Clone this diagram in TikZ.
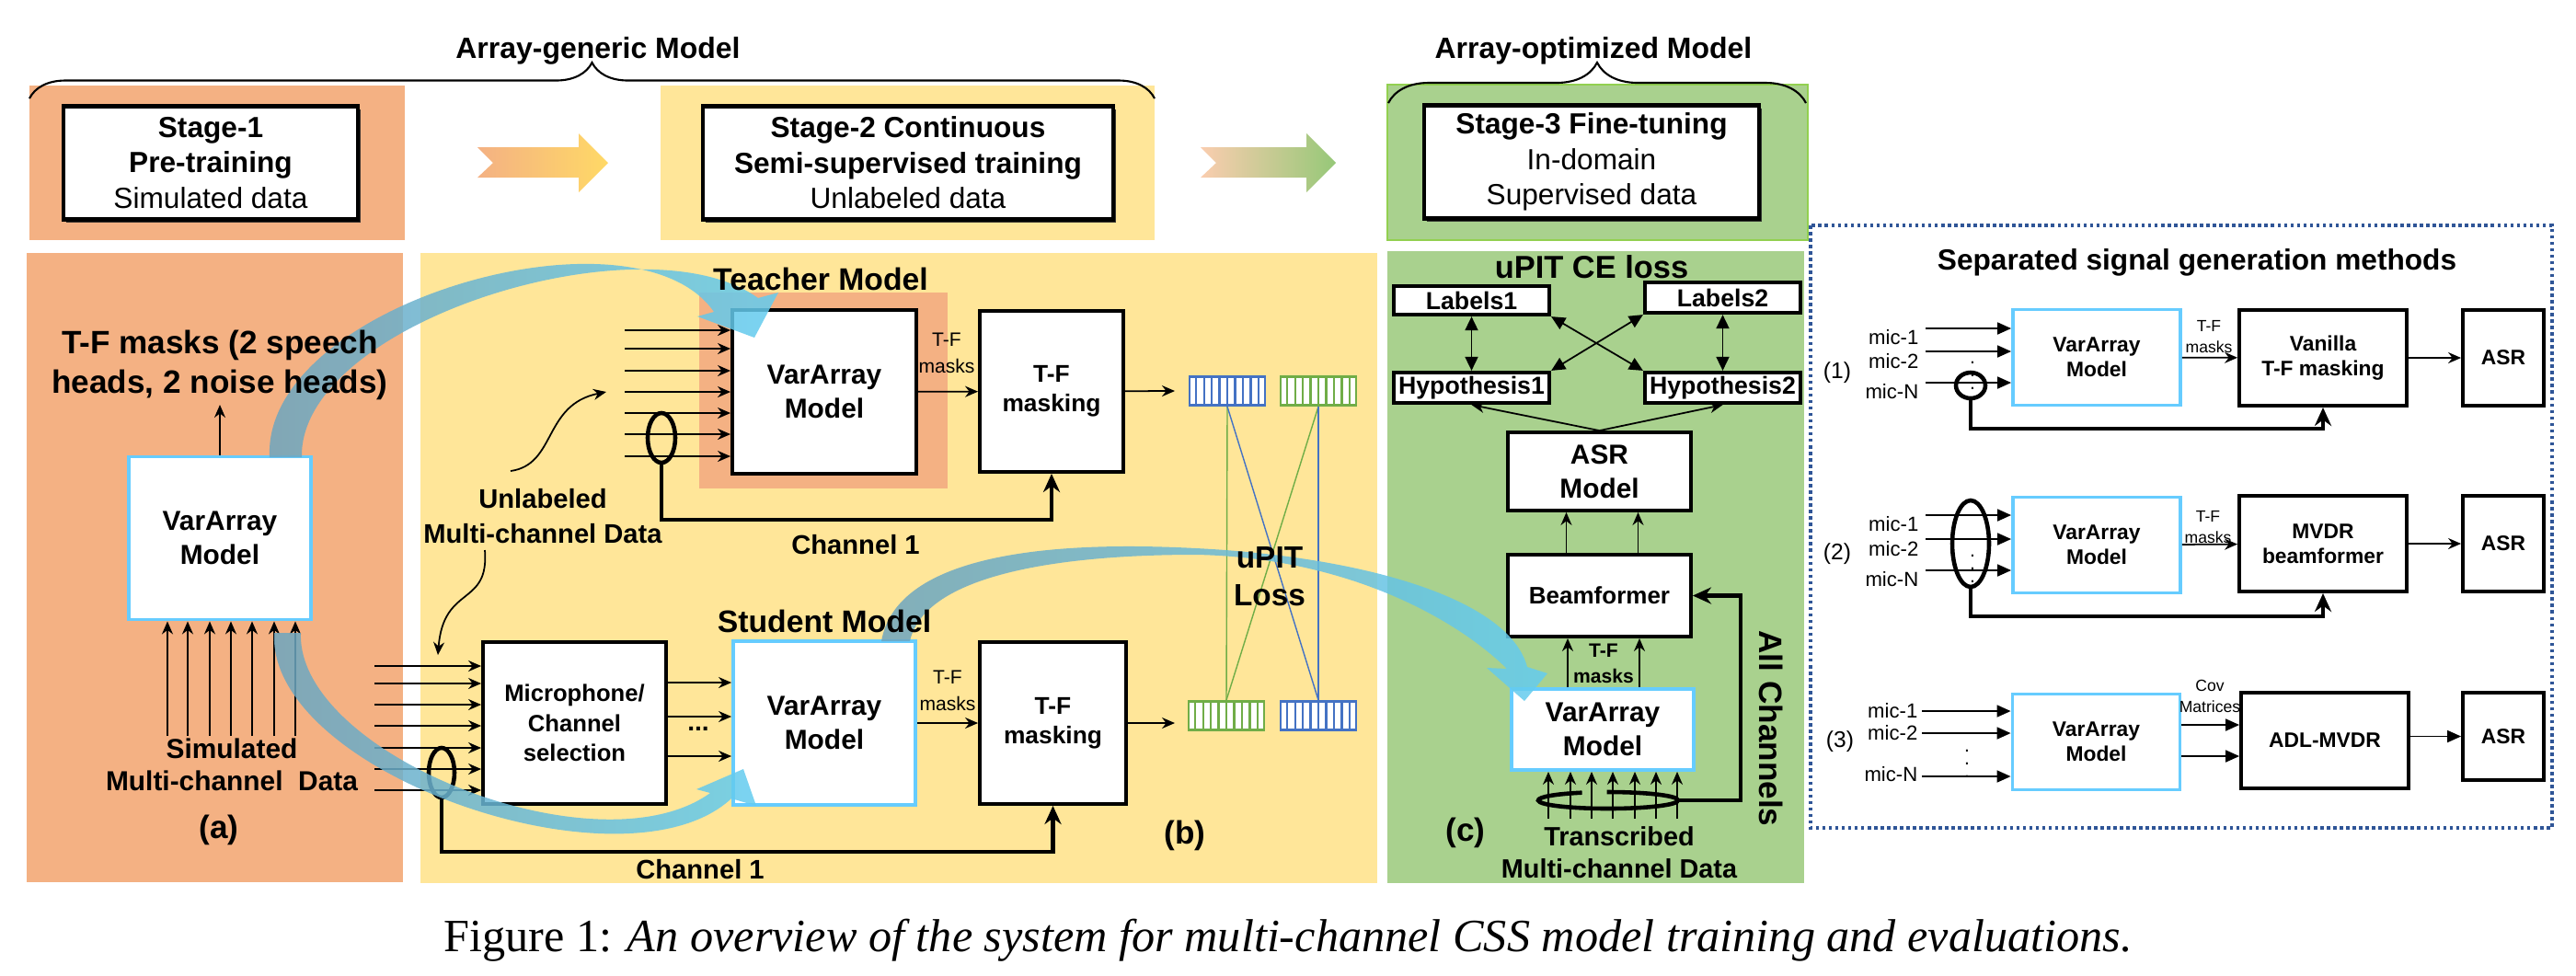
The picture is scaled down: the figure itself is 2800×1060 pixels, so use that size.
\documentclass[tikz,border=0pt]{standalone}
\usepackage{fontspec}
\setmainfont{Liberation Sans}
\newfontfamily\capserif{Liberation Serif}
\usetikzlibrary{arrows.meta,calc,decorations.pathreplacing,shadows}

\definecolor{pinkbg}{HTML}{F4B183}
\definecolor{yellowbg}{HTML}{FFE699}
\definecolor{greenbg}{HTML}{A9D18E}
\definecolor{greenrim}{HTML}{92D050}
\definecolor{skyrim}{HTML}{66CCFF}
\definecolor{barblue}{HTML}{4472C4}
\definecolor{bargreen}{HTML}{70AD47}
\definecolor{dotblue}{HTML}{2F5597}
\definecolor{gold}{RGB}{255,217,102}
\definecolor{peach}{RGB}{250,205,175}
\definecolor{leaf}{RGB}{150,200,120}
\definecolor{bandsteel}{RGB}{110,165,190}
\definecolor{bandsky}{RGB}{100,205,240}

\newcommand\fsz[2]{\fontsize{#1}{#2}\selectfont}
\newcommand\barcells[2]{%
  \foreach \k in {1,...,9}
    \draw[#2, line width=0.6pt] ($(#1.south west)!\k/10!(#1.south east)$) -- ($(#1.north west)!\k/10!(#1.north east)$);%
}

\tikzset{
  blk/.style={draw, line width=1.1pt, fill=white, align=center, inner sep=0pt, font=\bfseries\fsz{8.5}{10.5}},
  skyblk/.style={blk, draw=skyrim},
  stg/.style={draw, line width=1.3pt, fill=white, align=center, inner sep=0pt, font=\fsz{9}{11},
    drop shadow={shadow xshift=.3mm, shadow yshift=-.3mm, fill=black!85, opacity=.9}},
  lbl/.style={blk, line width=1.2pt, font=\bfseries\fsz{7.6}{9}, minimum width=16.9mm, minimum height=3.2mm},
  rblk/.style={blk, font=\bfseries\fsz{6.5}{7.8}, minimum width=18.2mm, minimum height=10.4mm},
  rsky/.style={rblk, draw=skyrim},
  arr/.style={line width=.5pt, -{Stealth[length=1.4mm, width=1.2mm]}},
  tri/.style={line width=.5pt, -{Triangle[length=1.5mm, width=1.3mm]}},
  dbl/.style={line width=.5pt, {Triangle[length=1.5mm, width=1.4mm]}-{Triangle[length=1.5mm, width=1.4mm]}},
  ret/.style={line width=1.3pt, -{Stealth[length=2mm, width=1.8mm]}},
  loopline/.style={line width=1.3pt},
  cellbar/.style={draw=#1, line width=.8pt, fill=white, minimum width=8.2mm, minimum height=3.1mm, inner sep=0pt},
  heading/.style={font=\bfseries\fsz{9.1}{10}},
  bigtxt/.style={font=\bfseries\fsz{8.3}{11}, align=center},
  smalltxt/.style={font=\fsz{6}{8.2}, align=center, inner sep=0pt},
  miclbl/.style={font=\fsz{6.3}{7}, anchor=east, inner sep=0pt},
  band/.style={left color=bandsteel, right color=bandsky, fill opacity=.85},
}

\begin{document}
\begin{tikzpicture}[x=0.1mm, y=-0.1mm]
	\useasboundingbox (0,0) rectangle (2800,1060);

	% stages on top
	\fill[pinkbg] (32,93) rectangle (440,261);
	\fill[yellowbg] (718,93) rectangle (1255,261);
	\filldraw[fill=greenbg, draw=greenrim, line width=.6pt] (1508,92) rectangle (1965,261);
	\node[stg, minimum width=32mm, minimum height=12.3mm] (st1) at (229,177) {{\bfseries Stage-1}\\{\bfseries Pre-training}\\Simulated data};
	\node[stg, minimum width=44.6mm, minimum height=12.3mm] (st2) at (987,177) {{\bfseries Stage-2 Continuous}\\{\bfseries Semi-supervised training}\\Unlabeled data};
	\node[stg, minimum width=36.4mm, minimum height=12.3mm] (st3) at (1730,176) {{\bfseries Stage-3 Fine-tuning}\\In-domain\\Supervised data};
	\shade[left color=pinkbg, right color=gold] (519,160) -- (629,160) -- (629,145) -- (661,177) -- (629,209) -- (629,193) -- (519,193) -- (536,177) -- cycle;
	\shade[left color=peach, right color=leaf] (1305,160) -- (1420,160) -- (1420,145) -- (1452,177) -- (1420,209) -- (1420,193) -- (1305,193) -- (1322,177) -- cycle;
	\draw[decorate, decoration={brace, amplitude=3.9mm}, line width=.6pt] (32,107) -- (1255,107);
	\draw[decorate, decoration={brace, amplitude=4.4mm}, line width=.6pt] (1509,112) -- (1963,112);
	\node[heading] (genT) at (650,55) {Array-generic Model};
	\node[heading] (optT) at (1732,55) {Array-optimized Model};

	% panels
	\fill[pinkbg] (29,275) rectangle (438,959);
	\fill[yellowbg] (457,275) rectangle (1497,960);
	\fill[greenbg] (1508,273) rectangle (1961,960);
	\fill[pinkbg] (760,318) rectangle (1030,531);
	\draw[dotblue, densely dotted, line width=1pt] (1968,245) rectangle (2774,900);

	% (a)
	\node[skyblk, minimum width=19.8mm, minimum height=17.7mm] (varA) at (239,585) {VarArray\\Model};
	\foreach \xx [count=\i] in {182,204,228,251,274,298,321} {
		\coordinate (inA\i) at (\xx,800);
		\draw[arr] (inA\i) -- (inA\i |- varA.south);
	}
	\node[font=\bfseries\fsz{10}{12}] (labA) at (238,902) {(a)};

	% (b) teacher
	\node[blk, minimum width=20mm, minimum height=17.8mm] (teach) at (896,426) {VarArray\\Model};
	\node[blk, minimum width=15.6mm, minimum height=17.5mm, font=\bfseries\fsz{7.5}{9}] (tfm1) at (1143,425.5) {T-F\\masking};
	\foreach \yy [count=\i] in {359,379,403,426,449,472,496} {
		\coordinate (inT\i) at (679,\yy);
		\draw[arr] (inT\i) -- (inT\i -| teach.west);
	}
	\draw[loopline] (719,476) ellipse [x radius=15, y radius=27];
	\coordinate (loopT) at (719,503);
	\draw[ret] (loopT) -- ++(0,62) -| (tfm1.south);
	\node[bigtxt] (ch1T) at (930,592) {Channel 1};
	\draw[arr] (teach) -- (tfm1);
	\node[smalltxt] (maskT) at (1029,384) {T-F\\masks};

	% (b) student
	\node[blk, minimum width=19.9mm, minimum height=17.6mm, font=\bfseries\fsz{7.3}{9.2}] (mic) at (624.5,786) {Microphone/\\Channel\\selection};
	\node[skyblk, minimum width=19.8mm, minimum height=17.8mm] (stud) at (896,786) {VarArray\\Model};
	\node[blk, minimum width=15.9mm, minimum height=17.6mm, font=\bfseries\fsz{7.5}{9}] (tfm2) at (1144.5,786) {T-F\\masking};
	\foreach \yy [count=\i] in {724,743,766,789,813,836,859} {
		\coordinate (inM\i) at (407,\yy);
		\draw[arr] (inM\i) -- (inM\i -| mic.west);
	}
	\foreach \dy in {-44,-7,36}
		\draw[arr] ($(mic.east)+(0,\dy)$) -- ($(stud.west)+(0,\dy)$);
	\node[font=\bfseries\fsz{8}{10}] (dotsM) at (759,792) {...};
	\draw[loopline] (480,840) ellipse [x radius=14, y radius=27];
	\coordinate (loopS) at (480,867);
	\draw[ret] (loopS) -- ++(0,59) -| (tfm2.south);
	\node[bigtxt] (ch1S) at (761,945) {Channel 1};
	\draw[arr] (stud) -- (tfm2);
	\node[smalltxt] (maskS) at (1030,751) {T-F\\masks};

	% unlabeled data
	\node[bigtxt] (unl) at (590,561) {Unlabeled\\Multi-channel Data};
	\coordinate (uUp0) at (555,512);
	\coordinate (uUp1) at (659,426);
	\draw[arr] (uUp0) .. controls (605,505) and (590,440) .. (uUp1);
	\coordinate (uDn0) at (527,598);
	\coordinate (uDn1) at (476,712);
	\draw[arr] (uDn0) .. controls (532,660) and (482,635) .. (uDn1);

	% uPIT loss
	\coordinate (barIn1) at (1277,425);
	\coordinate (barIn2) at (1277,786);
	\draw[arr] (tfm1) -- (barIn1);
	\draw[arr] (tfm2) -- (barIn2);
	\node[cellbar=barblue] (tb) at (1334,425) {};
	\node[cellbar=bargreen] (tg) at (1433,425) {};
	\node[cellbar=bargreen] (bg) at (1333,778) {};
	\node[cellbar=barblue] (bb) at (1433,778) {};
	\barcells{tb}{barblue}
	\barcells{tg}{bargreen}
	\barcells{bg}{bargreen}
	\barcells{bb}{barblue}
	\draw[bargreen, line width=.4pt] (tb.south) -- (bg.north);
	\draw[barblue, line width=.4pt] (tb.south) -- (bb.north);
	\draw[bargreen, line width=.4pt] (tg.south) -- (bg.north);
	\draw[barblue, line width=.4pt] (tg.south) -- (bb.north);
	\node[font=\bfseries\fsz{10}{12}] (labB) at (1288,908) {(b)};

	% (c)
	\node[font=\bfseries\fsz{9.8}{11}] (ceT) at (1730,290) {uPIT CE loss};
	\node[lbl, minimum height=3.1mm] (lab1) at (1599.5,326.5) {Labels1};
	\node[lbl, minimum height=3.3mm] (lab2) at (1872.5,323.5) {Labels2};
	\node[lbl, minimum height=3.3mm] (hyp1) at (1599.5,421.5) {Hypothesis1};
	\node[lbl, minimum height=3.3mm] (hyp2) at (1872.5,421.5) {Hypothesis2};
	\draw[dbl] (lab1) -- (hyp1);
	\draw[dbl] (lab2) -- (hyp2);
	\draw[dbl] (lab1.south east) -- (hyp2.north west);
	\draw[dbl] (lab2.south west) -- (hyp1.north east);
	\node[blk, minimum width=19.9mm, minimum height=8.5mm] (asr) at (1738.5,512.5) {ASR\\Model};
	\draw[arr] (asr.north) -- (hyp1.south);
	\draw[arr] (asr.north) -- (hyp2.south);
	\node[blk, minimum width=19.9mm, minimum height=8.9mm, font=\bfseries\fsz{7.4}{9}] (bf) at (1738.5,647.5) {Beamformer};
	\draw[arr] ([xshift=-3.6mm]bf.north) -- ([xshift=-3.6mm]asr.south);
	\draw[arr] ([xshift=4.2mm]bf.north) -- ([xshift=4.2mm]asr.south);
	\node[skyblk, minimum width=19.8mm, minimum height=8.8mm] (varC) at (1742,793) {VarArray\\Model};
	\draw[arr] ([xshift=-3.8mm]varC.north) -- ([xshift=-3.8mm]varC.north |- bf.south);
	\draw[arr] ([xshift=4mm]varC.north) -- ([xshift=4mm]varC.north |- bf.south);
	\node[smalltxt, font=\bfseries\fsz{6}{8}] (maskC) at (1743,721) {T-F\\masks};
	\foreach \xx [count=\i] in {1683,1707,1730,1753,1777,1800,1823} {
		\coordinate (inC\i) at (\xx,890);
		\draw[arr] (inC\i) -- (inC\i |- varC.south);
	}
	\draw[loopline] (1746.7,861) arc [start angle=-91, end angle=248, x radius=76, y radius=9];
	\coordinate (loopC) at (1824,870);
	\draw[ret] (loopC) -- ++(68,0) |- (bf.east);
	\node[rotate=-90, font=\bfseries\fsz{10}{12}] (allC) at (1925,792) {All Channels};
	\node[font=\bfseries\fsz{10}{12}] (labC) at (1593,905) {(c)};
	\node[bigtxt, font=\bfseries\fsz{8.2}{10}] (trans) at (1760,927) {Transcribed\\Multi-channel Data};

	% separated signal generation methods
	\node[font=\bfseries\fsz{9}{10}] (sepT) at (2388,285) {Separated signal generation methods};
	\node[rsky] (r1v) at (2279,388.5) {VarArray\\Model};
	\node[rblk] (r1m) at (2525,389) {Vanilla\\T-F masking};
	\node[rblk, minimum width=8.8mm] (r1a) at (2721,389) {ASR};
	\node[rsky] (r2v) at (2279,592.5) {VarArray\\Model};
	\node[rblk] (r2m) at (2525,591) {MVDR\\beamformer};
	\node[rblk, minimum width=8.8mm] (r2a) at (2721,591) {ASR};
	\node[rsky] (r3v) at (2278.5,806.5) {VarArray\\Model};
	\node[rblk] (r3m) at (2527,805) {ADL-MVDR};
	\node[rblk, minimum width=8.8mm, minimum height=9.5mm] (r3a) at (2721,800.5) {ASR};

	\foreach \yy [count=\i] in {357,382,416} {
		\coordinate (r1in\i) at (2093,\yy);
		\draw[tri] (r1in\i) -- (r1in\i -| r1v.west);
	}
	\foreach \yy [count=\i] in {560,586,620} {
		\coordinate (r2in\i) at (2093,\yy);
		\draw[tri] (r2in\i) -- (r2in\i -| r2v.west);
	}
	\foreach \yy [count=\i] in {773,797,844} {
		\coordinate (r3in\i) at (2089,\yy);
		\draw[tri] (r3in\i) -- (r3in\i -| r3v.west);
	}
	\node[miclbl] at (2086,367) {mic-1};
	\node[miclbl] at (2086,393) {mic-2};
	\node[miclbl] at (2086,426) {mic-N};
	\node[miclbl] at (2086,570) {mic-1};
	\node[miclbl] at (2086,597) {mic-2};
	\node[miclbl] at (2086,630) {mic-N};
	\node[miclbl] at (2085,773) {mic-1};
	\node[miclbl] at (2085,797) {mic-2};
	\node[miclbl] at (2085,842) {mic-N};
	\node[font=\fsz{7}{8}] at (1997,405) {(1)};
	\node[font=\fsz{7}{8}] at (1997,602) {(2)};
	\node[font=\fsz{7}{8}] at (2000,806) {(3)};
	\node[font=\fsz{6}{6}, inner sep=0pt] at (2144,398) {$\vdots$};
	\node[font=\fsz{6}{6}, inner sep=0pt] at (2144,608) {$\vdots$};
	\node[font=\fsz{6}{6}, inner sep=0pt] at (2138,820) {$\vdots$};

	\draw[loopline] (2142,419) ellipse [x radius=16, y radius=14];
	\coordinate (r1loop) at (2142,433);
	\draw[ret] (r1loop) -- ++(0,33) -| (r1m.south);
	\draw[loopline] (2142,591) ellipse [x radius=20, y radius=47];
	\coordinate (r2loop) at (2142,638);
	\draw[ret] (r2loop) -- ++(0,32) -| (r2m.south);

	\draw[arr] (r1v) -- (r1m);
	\draw[arr] (r1m) -- (r1a);
	\draw[arr] (r2v) -- (r2m);
	\draw[arr] (r2m) -- (r2a);
	\draw[tri] ([yshift=1.85mm]r3v.east) -- ([yshift=1.85mm]r3v.east -| r3m.west);
	\draw[tri] ([yshift=-1.55mm]r3v.east) -- ([yshift=-1.55mm]r3v.east -| r3m.west);
	\draw[tri] (r3a -| r3m.east) -- (r3a.west);
	\node[smalltxt, font=\fsz{5}{6.5}] at (2401,366) {T-F\\masks};
	\node[smalltxt, font=\fsz{5}{6.5}] at (2400,573) {T-F\\masks};
	\node[smalltxt, font=\fsz{5}{6.5}] at (2402,757) {Cov\\Matrices};

	% model transfer bands
	\shade[band] (293,497) .. controls (285,330) and (690,215) .. (776,339) -- (758,344) -- (820,367) -- (846,318) -- (824,324) .. controls (700,235) and (325,350) .. (328,497) -- cycle;
	\shade[band] (298,688) .. controls (290,840) and (680,975) .. (795,868) -- (822,876) -- (808,836) -- (757,858) -- (772,862) .. controls (650,950) and (322,820) .. (327,688) -- cycle;
	\shade[band] (958,697) .. controls (975,600) and (1150,588) .. (1300,596) .. controls (1480,605) and (1640,650) .. (1660,725) -- (1682,732) -- (1657,762) -- (1616,726) -- (1638,727) .. controls (1580,670) and (1460,606) .. (1300,603) .. controls (1150,603) and (1005,625) .. (989,697) -- cycle;

	% texts on top of bands
	\node[font=\bfseries\fsz{9.6}{11}] (teachT) at (892,303) {Teacher Model};
	\node[font=\bfseries\fsz{9.6}{11}] (studT) at (896,675) {Student Model};
	\node[font=\bfseries\fsz{9.5}{11.7}, align=center] (lossT) at (1380,627) {uPIT\\Loss};
	\node[font=\bfseries\fsz{10}{12}, align=center, anchor=south, inner sep=.5mm] (tfA) at (239,440) {T-F masks (2 speech\\heads, 2 noise heads)};
	\draw[arr] (varA) -- (tfA);
	\node[font=\bfseries\fsz{8.5}{10}, align=center] (simA) at (252,831) {Simulated\\Multi-channel\ \ Data};

	% caption
	\node[font=\capserif\fsz{14.3}{16}] (cap) at (1400,1022) {Figure 1: \textit{An overview of the system for multi-channel CSS model training and evaluations.}};
\end{tikzpicture}
\end{document}
